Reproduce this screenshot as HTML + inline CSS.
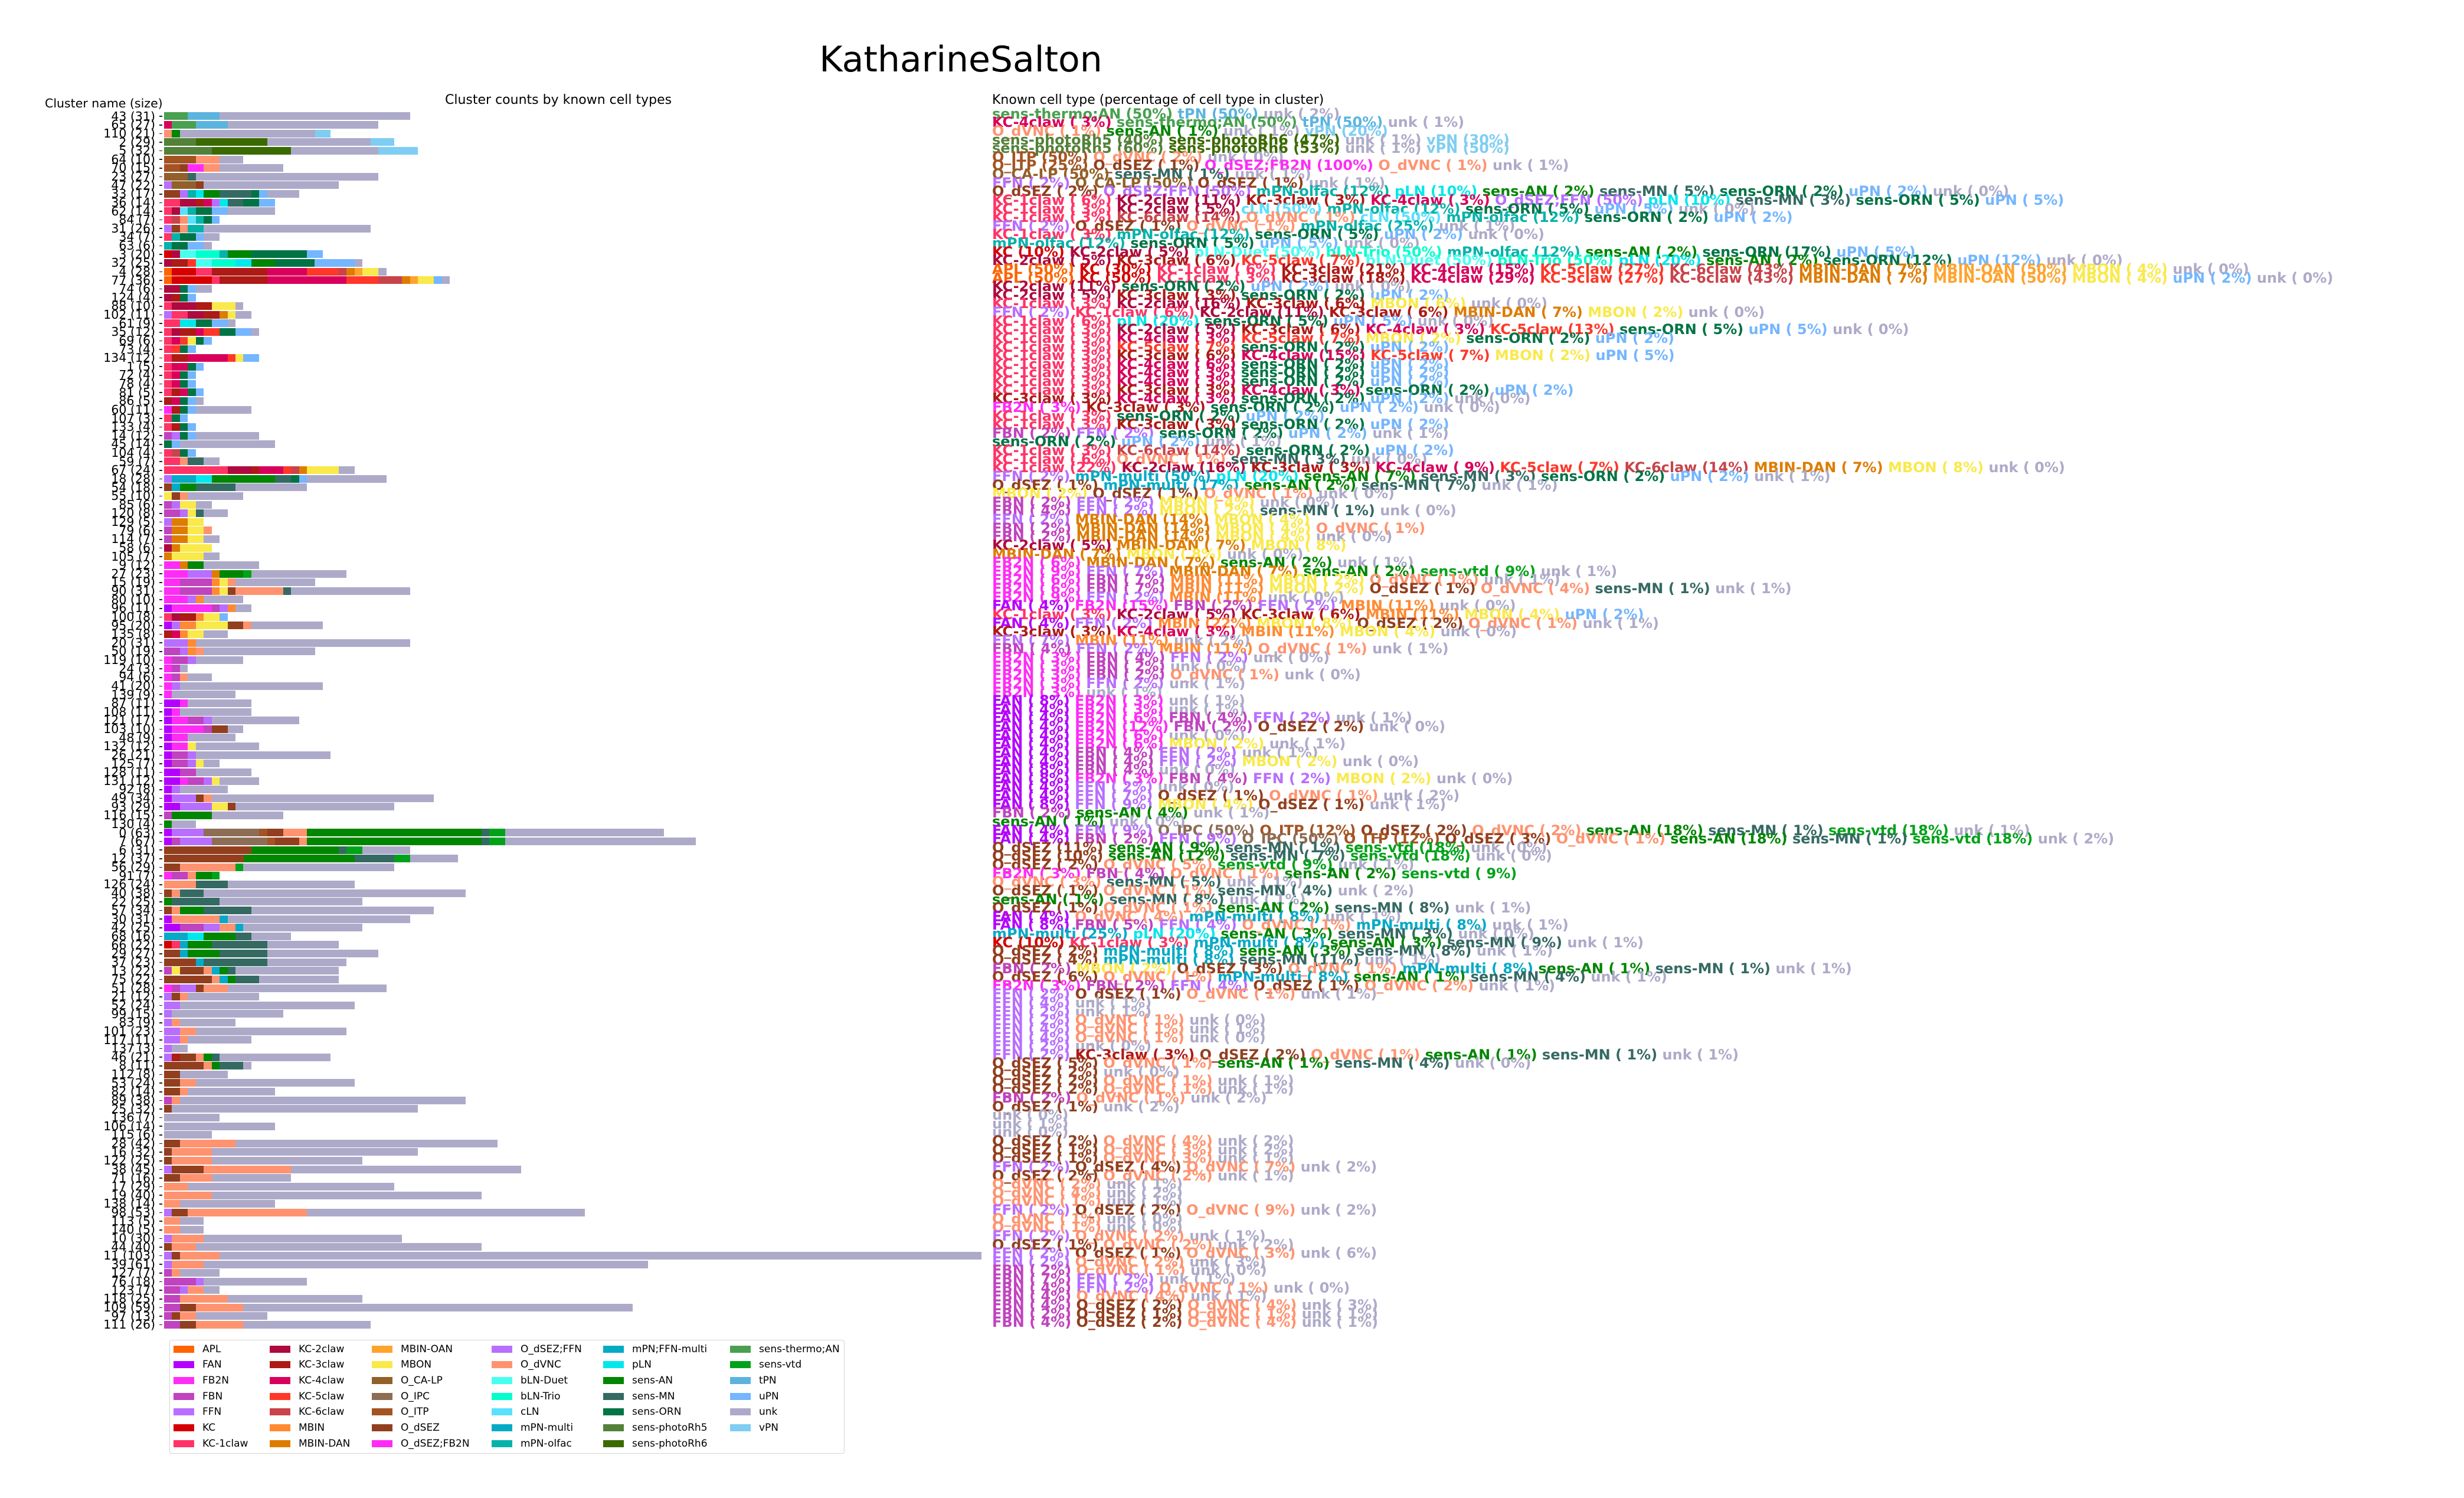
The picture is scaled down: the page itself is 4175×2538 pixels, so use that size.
<!DOCTYPE html>
<html><head><meta charset="utf-8">
<style>
*{margin:0;padding:0;box-sizing:border-box}
body{width:4175px;height:2538px;background:#fff;position:relative;overflow:hidden;font-family:"DejaVu Sans","Liberation Sans",sans-serif}
.t{position:absolute;white-space:nowrap;color:#000}
#lab{position:absolute;left:0;top:189.7px;width:263px;text-align:right;font-size:20.5px}
#lab div{height:14.64px;line-height:14.64px;white-space:nowrap}
#bars{position:absolute;left:278px;top:189.7px}
#bars div{height:14.64px;padding-top:0.8px;display:flex;position:relative}
#bars div::before{content:"";position:absolute;left:-8px;top:6.6px;width:5px;height:1.6px;background:#222}
#bars i{display:block;height:13px;width:calc(var(--n)*13.45px);background:var(--c)}
#txt{position:absolute;left:1681px;top:185.7px;font-size:24px;font-weight:bold}
#txt div{height:14.64px;line-height:14.64px;white-space:pre}
#txt b{color:var(--c)}
.ap{--c:#ff6400}.fa{--c:#b400ff}.f2,.df{--c:#ff2cf6}.fb{--c:#c043bf}.ff,.dF{--c:#b86eff}.k{--c:#d60000}.k1{--c:#ff3366}.k2{--c:#ae0a3f}.k3{--c:#ae1a16}.k4{--c:#d9005b}.k5{--c:#ff3729}.k6{--c:#c9434a}.mi{--c:#ff8a33}.md{--c:#de7c00}.mo{--c:#ffa32e}.mb{--c:#f9e94b}.ca{--c:#926029}.ip{--c:#8c6d56}.it{--c:#a45423}.ds{--c:#923f1f}.dv{--c:#ff9370}.bd{--c:#48fff0}.bt{--c:#00ffcc}.cl{--c:#5ae0ff}.mm{--c:#06aac6}.mq{--c:#05aac5}.mf{--c:#06b3aa}.pl{--c:#00e8ec}.an{--c:#008600}.mn{--c:#356a63}.or{--c:#007445}.r5{--c:#538139}.r6{--c:#3b6b00}.th{--c:#49a04f}.vt{--c:#00a21a}.tp{--c:#5bb4de}.up{--c:#74b6ff}.un{--c:#adaac9}.vp{--c:#7fcdf3}
#leg{position:absolute;left:287px;top:2270px;width:1144px;height:193px;border:1.5px solid #d4d4d4;border-radius:4px}
.li{position:absolute;font-size:17px;white-space:nowrap;height:20px;line-height:20px}
.li i{position:absolute;left:0;top:4px;width:35px;height:12px;background:var(--c)}
.li span{position:absolute;left:49px;top:0;color:#000}
</style></head><body>
<div class="t" style="left:1628px;top:101px;transform:translate(-50%,-50%);font-size:60px">KatharineSalton</div>
<div class="t" style="left:76px;top:163px;font-size:20.5px">Cluster name (size)</div>
<div class="t" style="left:754px;top:157px;font-size:22px">Cluster counts by known cell types</div>
<div class="t" style="left:1681px;top:157px;font-size:22px">Known cell type (percentage of cell type in cluster)</div>

<div id="lab">
<div>43 (31)</div><div>65 (27)</div><div>110 (21)</div><div>2 (29)</div><div>5 (32)</div><div>64 (10)</div><div>70 (15)</div><div>23 (27)</div><div>47 (22)</div><div>33 (17)</div>
<div>36 (14)</div><div>62 (14)</div><div>84 (7)</div><div>31 (26)</div><div>34 (7)</div><div>63 (6)</div><div>3 (20)</div><div>32 (25)</div><div>4 (28)</div><div>77 (36)</div>
<div>74 (6)</div><div>124 (4)</div><div>88 (10)</div><div>102 (11)</div><div>61 (9)</div><div>35 (12)</div><div>69 (6)</div><div>73 (4)</div><div>134 (12)</div><div>1 (5)</div>
<div>72 (4)</div><div>78 (4)</div><div>81 (5)</div><div>86 (5)</div><div>60 (11)</div><div>107 (3)</div><div>133 (4)</div><div>14 (12)</div><div>45 (14)</div><div>104 (4)</div>
<div>59 (7)</div><div>67 (24)</div><div>18 (28)</div><div>54 (18)</div><div>55 (10)</div><div>85 (6)</div><div>120 (8)</div><div>129 (5)</div><div>79 (6)</div><div>114 (7)</div>
<div>58 (6)</div><div>105 (7)</div><div>9 (12)</div><div>27 (23)</div><div>15 (19)</div><div>90 (31)</div><div>80 (10)</div><div>96 (11)</div><div>100 (8)</div><div>95 (20)</div>
<div>135 (8)</div><div>20 (31)</div><div>50 (19)</div><div>119 (10)</div><div>24 (3)</div><div>94 (6)</div><div>41 (20)</div><div>139 (9)</div><div>87 (11)</div><div>108 (11)</div>
<div>121 (17)</div><div>103 (10)</div><div>48 (9)</div><div>132 (12)</div><div>26 (21)</div><div>125 (7)</div><div>128 (11)</div><div>131 (12)</div><div>92 (8)</div><div>49 (34)</div>
<div>93 (29)</div><div>116 (15)</div><div>130 (4)</div><div>0 (63)</div><div>7 (67)</div><div>6 (31)</div><div>12 (37)</div><div>56 (29)</div><div>91 (7)</div><div>126 (24)</div>
<div>40 (38)</div><div>22 (25)</div><div>57 (34)</div><div>30 (31)</div><div>42 (25)</div><div>68 (16)</div><div>66 (22)</div><div>29 (27)</div><div>37 (23)</div><div>13 (22)</div>
<div>75 (22)</div><div>51 (28)</div><div>21 (12)</div><div>52 (24)</div><div>99 (15)</div><div>83 (9)</div><div>101 (23)</div><div>117 (11)</div><div>137 (3)</div><div>46 (21)</div>
<div>8 (11)</div><div>112 (8)</div><div>53 (24)</div><div>82 (14)</div><div>89 (38)</div><div>25 (32)</div><div>136 (7)</div><div>106 (14)</div><div>115 (6)</div><div>28 (42)</div>
<div>16 (32)</div><div>122 (25)</div><div>38 (45)</div><div>71 (16)</div><div>17 (29)</div><div>19 (40)</div><div>138 (14)</div><div>98 (53)</div><div>113 (5)</div><div>140 (5)</div>
<div>10 (30)</div><div>44 (40)</div><div>11 (103)</div><div>39 (61)</div><div>127 (7)</div><div>76 (18)</div><div>123 (7)</div><div>118 (25)</div><div>109 (59)</div><div>97 (13)</div>
<div>111 (26)</div>
</div>

<div id="bars">
<div><i class=th style=--n:3></i><i class=tp style=--n:4></i><i class=un style=--n:24></i></div>
<div><i class=k4 style=--n:1></i><i class=th style=--n:3></i><i class=tp style=--n:4></i><i class=un style=--n:19></i></div>
<div><i class=dv style=--n:1></i><i class=an style=--n:1></i><i class=un style=--n:17></i><i class=vp style=--n:2></i></div>
<div><i class=r5 style=--n:4></i><i class=r6 style=--n:9></i><i class=un style=--n:13></i><i class=vp style=--n:3></i></div>
<div><i class=r5 style=--n:6></i><i class=r6 style=--n:10></i><i class=un style=--n:11></i><i class=vp style=--n:5></i></div>
<div><i class=it style=--n:4></i><i class=dv style=--n:3></i><i class=un style=--n:3></i></div>
<div><i class=it style=--n:2></i><i class=ds style=--n:1></i><i class=df style=--n:2></i><i class=dv style=--n:2></i><i class=un style=--n:8></i></div>
<div><i class=ca style=--n:3></i><i class=mn style=--n:1></i><i class=un style=--n:23></i></div>
<div><i class=ff style=--n:1></i><i class=ca style=--n:3></i><i class=ds style=--n:1></i><i class=un style=--n:17></i></div>
<div><i class=ds style=--n:2></i><i class=dF style=--n:1></i><i class=mf style=--n:1></i><i class=pl style=--n:1></i><i class=an style=--n:2></i><i class=mn style=--n:4></i><i class=or style=--n:1></i><i class=up style=--n:1></i><i class=un style=--n:4></i></div>
<div><i class=k1 style=--n:2></i><i class=k2 style=--n:2></i><i class=k3 style=--n:1></i><i class=k4 style=--n:1></i><i class=dF style=--n:1></i><i class=pl style=--n:1></i><i class=mn style=--n:2></i><i class=or style=--n:2></i><i class=up style=--n:2></i></div>
<div><i class=k1 style=--n:1></i><i class=k2 style=--n:1></i><i class=cl style=--n:1></i><i class=mf style=--n:1></i><i class=or style=--n:2></i><i class=up style=--n:2></i><i class=un style=--n:6></i></div>
<div><i class=k1 style=--n:1></i><i class=k6 style=--n:1></i><i class=dv style=--n:1></i><i class=cl style=--n:1></i><i class=mf style=--n:1></i><i class=or style=--n:1></i><i class=up style=--n:1></i></div>
<div><i class=ff style=--n:1></i><i class=ds style=--n:1></i><i class=dv style=--n:1></i><i class=mf style=--n:2></i><i class=un style=--n:21></i></div>
<div><i class=k1 style=--n:1></i><i class=mf style=--n:1></i><i class=or style=--n:2></i><i class=up style=--n:1></i><i class=un style=--n:2></i></div>
<div><i class=mf style=--n:1></i><i class=or style=--n:2></i><i class=up style=--n:2></i><i class=un style=--n:1></i></div>
<div><i class=k style=--n:1></i><i class=k2 style=--n:1></i><i class=bd style=--n:2></i><i class=bt style=--n:3></i><i class=mf style=--n:1></i><i class=an style=--n:3></i><i class=or style=--n:7></i><i class=up style=--n:2></i></div>
<div><i class=k2 style=--n:1></i><i class=k3 style=--n:2></i><i class=k5 style=--n:1></i><i class=bd style=--n:2></i><i class=bt style=--n:3></i><i class=pl style=--n:2></i><i class=an style=--n:3></i><i class=or style=--n:5></i><i class=up style=--n:5></i><i class=un style=--n:1></i></div>
<div><i class=ap style=--n:1></i><i class=k style=--n:3></i><i class=k1 style=--n:2></i><i class=k3 style=--n:7></i><i class=k4 style=--n:5></i><i class=k5 style=--n:4></i><i class=k6 style=--n:1></i><i class=md style=--n:1></i><i class=mo style=--n:1></i><i class=mb style=--n:2></i><i class=un style=--n:1></i></div>
<div><i class=ap style=--n:1></i><i class=k style=--n:5></i><i class=k1 style=--n:1></i><i class=k3 style=--n:6></i><i class=k4 style=--n:10></i><i class=k5 style=--n:4></i><i class=k6 style=--n:3></i><i class=md style=--n:1></i><i class=mo style=--n:1></i><i class=mb style=--n:2></i><i class=up style=--n:1></i><i class=un style=--n:1></i></div>
<div><i class=k2 style=--n:2></i><i class=or style=--n:1></i><i class=up style=--n:1></i><i class=un style=--n:2></i></div>
<div><i class=k2 style=--n:1></i><i class=k3 style=--n:1></i><i class=or style=--n:1></i><i class=up style=--n:1></i></div>
<div><i class=k1 style=--n:1></i><i class=k2 style=--n:3></i><i class=k3 style=--n:2></i><i class=mb style=--n:3></i><i class=un style=--n:1></i></div>
<div><i class=ff style=--n:1></i><i class=k1 style=--n:2></i><i class=k2 style=--n:2></i><i class=k3 style=--n:2></i><i class=md style=--n:1></i><i class=mb style=--n:1></i><i class=un style=--n:2></i></div>
<div><i class=k1 style=--n:2></i><i class=pl style=--n:2></i><i class=or style=--n:2></i><i class=up style=--n:2></i><i class=un style=--n:1></i></div>
<div><i class=k1 style=--n:1></i><i class=k2 style=--n:1></i><i class=k3 style=--n:2></i><i class=k4 style=--n:1></i><i class=k5 style=--n:2></i><i class=or style=--n:2></i><i class=up style=--n:2></i><i class=un style=--n:1></i></div>
<div><i class=k1 style=--n:1></i><i class=k4 style=--n:1></i><i class=k5 style=--n:1></i><i class=mb style=--n:1></i><i class=or style=--n:1></i><i class=up style=--n:1></i></div>
<div><i class=k1 style=--n:1></i><i class=k5 style=--n:1></i><i class=or style=--n:1></i><i class=up style=--n:1></i></div>
<div><i class=k1 style=--n:1></i><i class=k3 style=--n:2></i><i class=k4 style=--n:5></i><i class=k5 style=--n:1></i><i class=mb style=--n:1></i><i class=up style=--n:2></i></div>
<div><i class=k1 style=--n:1></i><i class=k4 style=--n:2></i><i class=or style=--n:1></i><i class=up style=--n:1></i></div>
<div><i class=k1 style=--n:1></i><i class=k4 style=--n:1></i><i class=or style=--n:1></i><i class=up style=--n:1></i></div>
<div><i class=k1 style=--n:1></i><i class=k4 style=--n:1></i><i class=or style=--n:1></i><i class=up style=--n:1></i></div>
<div><i class=k1 style=--n:1></i><i class=k3 style=--n:1></i><i class=k4 style=--n:1></i><i class=or style=--n:1></i><i class=up style=--n:1></i></div>
<div><i class=k3 style=--n:1></i><i class=k4 style=--n:1></i><i class=or style=--n:1></i><i class=up style=--n:1></i><i class=un style=--n:1></i></div>
<div><i class=f2 style=--n:1></i><i class=k3 style=--n:1></i><i class=or style=--n:1></i><i class=up style=--n:1></i><i class=un style=--n:7></i></div>
<div><i class=k1 style=--n:1></i><i class=or style=--n:1></i><i class=up style=--n:1></i></div>
<div><i class=k1 style=--n:1></i><i class=k3 style=--n:1></i><i class=or style=--n:1></i><i class=up style=--n:1></i></div>
<div><i class=fb style=--n:1></i><i class=ff style=--n:1></i><i class=or style=--n:1></i><i class=up style=--n:1></i><i class=un style=--n:8></i></div>
<div><i class=or style=--n:1></i><i class=up style=--n:1></i><i class=un style=--n:12></i></div>
<div><i class=k1 style=--n:1></i><i class=k6 style=--n:1></i><i class=or style=--n:1></i><i class=up style=--n:1></i></div>
<div><i class=k1 style=--n:2></i><i class=dv style=--n:1></i><i class=mn style=--n:2></i><i class=un style=--n:2></i></div>
<div><i class=k1 style=--n:8></i><i class=k2 style=--n:3></i><i class=k3 style=--n:1></i><i class=k4 style=--n:3></i><i class=k5 style=--n:1></i><i class=k6 style=--n:1></i><i class=md style=--n:1></i><i class=mb style=--n:4></i><i class=un style=--n:2></i></div>
<div><i class=ff style=--n:1></i><i class=mm style=--n:3></i><i class=pl style=--n:2></i><i class=an style=--n:8></i><i class=mn style=--n:2></i><i class=or style=--n:1></i><i class=up style=--n:1></i><i class=un style=--n:10></i></div>
<div><i class=ds style=--n:1></i><i class=mm style=--n:1></i><i class=an style=--n:2></i><i class=mn style=--n:5></i><i class=un style=--n:9></i></div>
<div><i class=mb style=--n:1></i><i class=ds style=--n:1></i><i class=dv style=--n:1></i><i class=un style=--n:7></i></div>
<div><i class=fb style=--n:1></i><i class=ff style=--n:1></i><i class=mb style=--n:2></i><i class=un style=--n:2></i></div>
<div><i class=fb style=--n:2></i><i class=ff style=--n:1></i><i class=mb style=--n:1></i><i class=mn style=--n:1></i><i class=un style=--n:3></i></div>
<div><i class=ff style=--n:1></i><i class=md style=--n:2></i><i class=mb style=--n:2></i></div>
<div><i class=fb style=--n:1></i><i class=md style=--n:2></i><i class=mb style=--n:2></i><i class=dv style=--n:1></i></div>
<div><i class=fb style=--n:1></i><i class=md style=--n:2></i><i class=mb style=--n:2></i><i class=un style=--n:2></i></div>
<div><i class=k2 style=--n:1></i><i class=md style=--n:1></i><i class=mb style=--n:4></i></div>
<div><i class=md style=--n:1></i><i class=mb style=--n:4></i><i class=un style=--n:2></i></div>
<div><i class=f2 style=--n:2></i><i class=md style=--n:1></i><i class=an style=--n:2></i><i class=un style=--n:7></i></div>
<div><i class=f2 style=--n:3></i><i class=ff style=--n:3></i><i class=md style=--n:1></i><i class=an style=--n:3></i><i class=vt style=--n:1></i><i class=un style=--n:12></i></div>
<div><i class=f2 style=--n:2></i><i class=fb style=--n:4></i><i class=mi style=--n:1></i><i class=mb style=--n:1></i><i class=dv style=--n:1></i><i class=un style=--n:10></i></div>
<div><i class=f2 style=--n:2></i><i class=fb style=--n:4></i><i class=mi style=--n:1></i><i class=mb style=--n:1></i><i class=ds style=--n:1></i><i class=dv style=--n:6></i><i class=mn style=--n:1></i><i class=un style=--n:15></i></div>
<div><i class=f2 style=--n:3></i><i class=ff style=--n:1></i><i class=mi style=--n:1></i><i class=un style=--n:5></i></div>
<div><i class=fa style=--n:1></i><i class=f2 style=--n:5></i><i class=fb style=--n:1></i><i class=ff style=--n:1></i><i class=mi style=--n:1></i><i class=un style=--n:2></i></div>
<div><i class=k1 style=--n:1></i><i class=k2 style=--n:1></i><i class=k3 style=--n:2></i><i class=mi style=--n:1></i><i class=mb style=--n:2></i><i class=up style=--n:1></i></div>
<div><i class=fa style=--n:1></i><i class=ff style=--n:1></i><i class=mi style=--n:2></i><i class=mb style=--n:4></i><i class=ds style=--n:2></i><i class=dv style=--n:1></i><i class=un style=--n:9></i></div>
<div><i class=k3 style=--n:1></i><i class=k4 style=--n:1></i><i class=mi style=--n:1></i><i class=mb style=--n:2></i><i class=un style=--n:3></i></div>
<div><i class=ff style=--n:3></i><i class=mi style=--n:1></i><i class=un style=--n:27></i></div>
<div><i class=fb style=--n:2></i><i class=ff style=--n:1></i><i class=mi style=--n:1></i><i class=dv style=--n:1></i><i class=un style=--n:14></i></div>
<div><i class=f2 style=--n:1></i><i class=fb style=--n:2></i><i class=ff style=--n:1></i><i class=un style=--n:6></i></div>
<div><i class=f2 style=--n:1></i><i class=fb style=--n:1></i><i class=un style=--n:1></i></div>
<div><i class=f2 style=--n:1></i><i class=fb style=--n:1></i><i class=dv style=--n:1></i><i class=un style=--n:3></i></div>
<div><i class=f2 style=--n:1></i><i class=ff style=--n:1></i><i class=un style=--n:18></i></div>
<div><i class=f2 style=--n:1></i><i class=un style=--n:8></i></div>
<div><i class=fa style=--n:2></i><i class=f2 style=--n:1></i><i class=un style=--n:8></i></div>
<div><i class=fa style=--n:1></i><i class=f2 style=--n:1></i><i class=un style=--n:9></i></div>
<div><i class=fa style=--n:1></i><i class=f2 style=--n:2></i><i class=fb style=--n:2></i><i class=ff style=--n:1></i><i class=un style=--n:11></i></div>
<div><i class=fa style=--n:1></i><i class=f2 style=--n:4></i><i class=fb style=--n:1></i><i class=ds style=--n:2></i><i class=un style=--n:2></i></div>
<div><i class=fa style=--n:1></i><i class=f2 style=--n:2></i><i class=un style=--n:6></i></div>
<div><i class=fa style=--n:1></i><i class=f2 style=--n:2></i><i class=mb style=--n:1></i><i class=un style=--n:8></i></div>
<div><i class=fa style=--n:1></i><i class=fb style=--n:2></i><i class=ff style=--n:1></i><i class=un style=--n:17></i></div>
<div><i class=fa style=--n:1></i><i class=fb style=--n:2></i><i class=ff style=--n:1></i><i class=mb style=--n:1></i><i class=un style=--n:2></i></div>
<div><i class=fa style=--n:2></i><i class=fb style=--n:2></i><i class=un style=--n:7></i></div>
<div><i class=fa style=--n:2></i><i class=f2 style=--n:1></i><i class=fb style=--n:2></i><i class=ff style=--n:1></i><i class=mb style=--n:1></i><i class=un style=--n:5></i></div>
<div><i class=fa style=--n:1></i><i class=ff style=--n:1></i><i class=un style=--n:6></i></div>
<div><i class=fa style=--n:1></i><i class=ff style=--n:3></i><i class=ds style=--n:1></i><i class=dv style=--n:1></i><i class=un style=--n:28></i></div>
<div><i class=fa style=--n:2></i><i class=ff style=--n:4></i><i class=mb style=--n:2></i><i class=ds style=--n:1></i><i class=un style=--n:20></i></div>
<div><i class=fb style=--n:1></i><i class=an style=--n:5></i><i class=un style=--n:9></i></div>
<div><i class=an style=--n:1></i><i class=un style=--n:3></i></div>
<div><i class=fa style=--n:1></i><i class=ff style=--n:4></i><i class=ip style=--n:7></i><i class=it style=--n:1></i><i class=ds style=--n:2></i><i class=dv style=--n:3></i><i class=an style=--n:22></i><i class=mn style=--n:1></i><i class=vt style=--n:2></i><i class=un style=--n:20></i></div>
<div><i class=fa style=--n:1></i><i class=fb style=--n:1></i><i class=ff style=--n:4></i><i class=ip style=--n:7></i><i class=it style=--n:1></i><i class=ds style=--n:3></i><i class=dv style=--n:1></i><i class=an style=--n:22></i><i class=mn style=--n:1></i><i class=vt style=--n:2></i><i class=un style=--n:24></i></div>
<div><i class=ds style=--n:11></i><i class=an style=--n:11></i><i class=mn style=--n:1></i><i class=vt style=--n:2></i><i class=un style=--n:6></i></div>
<div><i class=ds style=--n:10></i><i class=an style=--n:14></i><i class=mn style=--n:5></i><i class=vt style=--n:2></i><i class=un style=--n:6></i></div>
<div><i class=ds style=--n:2></i><i class=dv style=--n:7></i><i class=vt style=--n:1></i><i class=un style=--n:19></i></div>
<div><i class=f2 style=--n:1></i><i class=fb style=--n:2></i><i class=dv style=--n:1></i><i class=an style=--n:2></i><i class=vt style=--n:1></i></div>
<div><i class=dv style=--n:4></i><i class=mn style=--n:4></i><i class=un style=--n:16></i></div>
<div><i class=ds style=--n:1></i><i class=dv style=--n:1></i><i class=mn style=--n:3></i><i class=un style=--n:33></i></div>
<div><i class=an style=--n:1></i><i class=mn style=--n:6></i><i class=un style=--n:18></i></div>
<div><i class=ds style=--n:1></i><i class=dv style=--n:1></i><i class=an style=--n:3></i><i class=mn style=--n:6></i><i class=un style=--n:23></i></div>
<div><i class=fa style=--n:1></i><i class=dv style=--n:6></i><i class=mm style=--n:1></i><i class=un style=--n:23></i></div>
<div><i class=fa style=--n:2></i><i class=fb style=--n:3></i><i class=ff style=--n:2></i><i class=dv style=--n:2></i><i class=mm style=--n:1></i><i class=un style=--n:15></i></div>
<div><i class=mm style=--n:3></i><i class=pl style=--n:2></i><i class=an style=--n:4></i><i class=mn style=--n:2></i><i class=un style=--n:5></i></div>
<div><i class=k style=--n:1></i><i class=k1 style=--n:1></i><i class=mm style=--n:1></i><i class=an style=--n:3></i><i class=mn style=--n:7></i><i class=un style=--n:9></i></div>
<div><i class=ds style=--n:2></i><i class=mm style=--n:1></i><i class=an style=--n:4></i><i class=mn style=--n:6></i><i class=un style=--n:14></i></div>
<div><i class=ds style=--n:4></i><i class=mm style=--n:1></i><i class=mn style=--n:8></i><i class=un style=--n:10></i></div>
<div><i class=fb style=--n:1></i><i class=mb style=--n:1></i><i class=ds style=--n:3></i><i class=dv style=--n:1></i><i class=mm style=--n:1></i><i class=an style=--n:1></i><i class=mn style=--n:1></i><i class=un style=--n:13></i></div>
<div><i class=ds style=--n:6></i><i class=dv style=--n:1></i><i class=mm style=--n:1></i><i class=an style=--n:1></i><i class=mn style=--n:3></i><i class=un style=--n:10></i></div>
<div><i class=f2 style=--n:1></i><i class=fb style=--n:1></i><i class=ff style=--n:2></i><i class=ds style=--n:1></i><i class=dv style=--n:3></i><i class=un style=--n:20></i></div>
<div><i class=ff style=--n:1></i><i class=ds style=--n:1></i><i class=dv style=--n:1></i><i class=un style=--n:9></i></div>
<div><i class=ff style=--n:2></i><i class=un style=--n:22></i></div>
<div><i class=ff style=--n:1></i><i class=un style=--n:14></i></div>
<div><i class=ff style=--n:1></i><i class=dv style=--n:1></i><i class=un style=--n:7></i></div>
<div><i class=ff style=--n:2></i><i class=dv style=--n:2></i><i class=un style=--n:19></i></div>
<div><i class=ff style=--n:2></i><i class=dv style=--n:1></i><i class=un style=--n:8></i></div>
<div><i class=ff style=--n:1></i><i class=un style=--n:2></i></div>
<div><i class=ff style=--n:1></i><i class=k3 style=--n:1></i><i class=ds style=--n:2></i><i class=dv style=--n:1></i><i class=an style=--n:1></i><i class=mn style=--n:1></i><i class=un style=--n:14></i></div>
<div><i class=ds style=--n:5></i><i class=dv style=--n:1></i><i class=an style=--n:1></i><i class=mn style=--n:3></i><i class=un style=--n:1></i></div>
<div><i class=ds style=--n:2></i><i class=un style=--n:6></i></div>
<div><i class=ds style=--n:2></i><i class=dv style=--n:2></i><i class=un style=--n:20></i></div>
<div><i class=ds style=--n:2></i><i class=dv style=--n:1></i><i class=un style=--n:11></i></div>
<div><i class=fb style=--n:1></i><i class=dv style=--n:1></i><i class=un style=--n:36></i></div>
<div><i class=ds style=--n:1></i><i class=un style=--n:31></i></div>
<div><i class=un style=--n:7></i></div>
<div><i class=un style=--n:14></i></div>
<div><i class=un style=--n:6></i></div>
<div><i class=ds style=--n:2></i><i class=dv style=--n:7></i><i class=un style=--n:33></i></div>
<div><i class=ds style=--n:1></i><i class=dv style=--n:5></i><i class=un style=--n:26></i></div>
<div><i class=ds style=--n:1></i><i class=dv style=--n:5></i><i class=un style=--n:19></i></div>
<div><i class=ff style=--n:1></i><i class=ds style=--n:4></i><i class=dv style=--n:11></i><i class=un style=--n:29></i></div>
<div><i class=ds style=--n:2></i><i class=dv style=--n:4></i><i class=un style=--n:10></i></div>
<div><i class=dv style=--n:3></i><i class=un style=--n:26></i></div>
<div><i class=dv style=--n:6></i><i class=un style=--n:34></i></div>
<div><i class=dv style=--n:2></i><i class=un style=--n:12></i></div>
<div><i class=ff style=--n:1></i><i class=ds style=--n:2></i><i class=dv style=--n:15></i><i class=un style=--n:35></i></div>
<div><i class=dv style=--n:2></i><i class=un style=--n:3></i></div>
<div><i class=dv style=--n:2></i><i class=un style=--n:3></i></div>
<div><i class=ff style=--n:1></i><i class=dv style=--n:4></i><i class=un style=--n:25></i></div>
<div><i class=ds style=--n:1></i><i class=dv style=--n:3></i><i class=un style=--n:36></i></div>
<div><i class=ff style=--n:1></i><i class=ds style=--n:1></i><i class=dv style=--n:5></i><i class=un style=--n:96></i></div>
<div><i class=ff style=--n:1></i><i class=dv style=--n:4></i><i class=un style=--n:56></i></div>
<div><i class=fb style=--n:1></i><i class=dv style=--n:1></i><i class=un style=--n:5></i></div>
<div><i class=fb style=--n:4></i><i class=ff style=--n:1></i><i class=un style=--n:13></i></div>
<div><i class=fb style=--n:2></i><i class=ff style=--n:1></i><i class=dv style=--n:2></i><i class=un style=--n:2></i></div>
<div><i class=fb style=--n:2></i><i class=dv style=--n:6></i><i class=un style=--n:17></i></div>
<div><i class=fb style=--n:2></i><i class=ds style=--n:2></i><i class=dv style=--n:6></i><i class=un style=--n:49></i></div>
<div><i class=fb style=--n:1></i><i class=ds style=--n:1></i><i class=dv style=--n:2></i><i class=un style=--n:9></i></div>
<div><i class=fb style=--n:2></i><i class=ds style=--n:2></i><i class=dv style=--n:6></i><i class=un style=--n:16></i></div>
</div>

<div id="txt">
<div><b class=th>sens-thermo;AN (50%)</b> <b class=tp>tPN (50%)</b> <b class=un>unk ( 2%)</b></div>
<div><b class=k4>KC-4claw ( 3%)</b> <b class=th>sens-thermo;AN (50%)</b> <b class=tp>tPN (50%)</b> <b class=un>unk ( 1%)</b></div>
<div><b class=dv>O_dVNC ( 1%)</b> <b class=an>sens-AN ( 1%)</b> <b class=un>unk ( 1%)</b> <b class=vp>vPN (20%)</b></div>
<div><b class=r5>sens-photoRh5 (40%)</b> <b class=r6>sens-photoRh6 (47%)</b> <b class=un>unk ( 1%)</b> <b class=vp>vPN (30%)</b></div>
<div><b class=r5>sens-photoRh5 (60%)</b> <b class=r6>sens-photoRh6 (53%)</b> <b class=un>unk ( 1%)</b> <b class=vp>vPN (50%)</b></div>
<div><b class=it>O_ITP (50%)</b> <b class=dv>O_dVNC ( 2%)</b> <b class=un>unk ( 0%)</b></div>
<div><b class=it>O_ITP (25%)</b> <b class=ds>O_dSEZ ( 1%)</b> <b class=df>O_dSEZ;FB2N (100%)</b> <b class=dv>O_dVNC ( 1%)</b> <b class=un>unk ( 1%)</b></div>
<div><b class=ca>O_CA-LP (50%)</b> <b class=mn>sens-MN ( 1%)</b> <b class=un>unk ( 1%)</b></div>
<div><b class=ff>FFN ( 2%)</b> <b class=ca>O_CA-LP (50%)</b> <b class=ds>O_dSEZ ( 1%)</b> <b class=un>unk ( 1%)</b></div>
<div><b class=ds>O_dSEZ ( 2%)</b> <b class=dF>O_dSEZ;FFN (50%)</b> <b class=mf>mPN-olfac (12%)</b> <b class=pl>pLN (10%)</b> <b class=an>sens-AN ( 2%)</b> <b class=mn>sens-MN ( 5%)</b> <b class=or>sens-ORN ( 2%)</b> <b class=up>uPN ( 2%)</b> <b class=un>unk ( 0%)</b></div>
<div><b class=k1>KC-1claw ( 6%)</b> <b class=k2>KC-2claw (11%)</b> <b class=k3>KC-3claw ( 3%)</b> <b class=k4>KC-4claw ( 3%)</b> <b class=dF>O_dSEZ;FFN (50%)</b> <b class=pl>pLN (10%)</b> <b class=mn>sens-MN ( 3%)</b> <b class=or>sens-ORN ( 5%)</b> <b class=up>uPN ( 5%)</b></div>
<div><b class=k1>KC-1claw ( 3%)</b> <b class=k2>KC-2claw ( 5%)</b> <b class=cl>cLN (50%)</b> <b class=mf>mPN-olfac (12%)</b> <b class=or>sens-ORN ( 5%)</b> <b class=up>uPN ( 5%)</b> <b class=un>unk ( 0%)</b></div>
<div><b class=k1>KC-1claw ( 3%)</b> <b class=k6>KC-6claw (14%)</b> <b class=dv>O_dVNC ( 1%)</b> <b class=cl>cLN (50%)</b> <b class=mf>mPN-olfac (12%)</b> <b class=or>sens-ORN ( 2%)</b> <b class=up>uPN ( 2%)</b></div>
<div><b class=ff>FFN ( 2%)</b> <b class=ds>O_dSEZ ( 1%)</b> <b class=dv>O_dVNC ( 1%)</b> <b class=mf>mPN-olfac (25%)</b> <b class=un>unk ( 1%)</b></div>
<div><b class=k1>KC-1claw ( 3%)</b> <b class=mf>mPN-olfac (12%)</b> <b class=or>sens-ORN ( 5%)</b> <b class=up>uPN ( 2%)</b> <b class=un>unk ( 0%)</b></div>
<div><b class=mf>mPN-olfac (12%)</b> <b class=or>sens-ORN ( 5%)</b> <b class=up>uPN ( 5%)</b> <b class=un>unk ( 0%)</b></div>
<div><b class=k>KC (10%)</b> <b class=k2>KC-2claw ( 5%)</b> <b class=bd>bLN-Duet (50%)</b> <b class=bt>bLN-Trio (50%)</b> <b class=mf>mPN-olfac (12%)</b> <b class=an>sens-AN ( 2%)</b> <b class=or>sens-ORN (17%)</b> <b class=up>uPN ( 5%)</b></div>
<div><b class=k2>KC-2claw ( 5%)</b> <b class=k3>KC-3claw ( 6%)</b> <b class=k5>KC-5claw ( 7%)</b> <b class=bd>bLN-Duet (50%)</b> <b class=bt>bLN-Trio (50%)</b> <b class=pl>pLN (20%)</b> <b class=an>sens-AN ( 2%)</b> <b class=or>sens-ORN (12%)</b> <b class=up>uPN (12%)</b> <b class=un>unk ( 0%)</b></div>
<div><b class=ap>APL (50%)</b> <b class=k>KC (30%)</b> <b class=k1>KC-1claw ( 6%)</b> <b class=k3>KC-3claw (21%)</b> <b class=k4>KC-4claw (15%)</b> <b class=k5>KC-5claw (27%)</b> <b class=k6>KC-6claw (43%)</b> <b class=md>MBIN-DAN ( 7%)</b> <b class=mo>MBIN-OAN (50%)</b> <b class=mb>MBON ( 4%)</b> <b class=un>unk ( 0%)</b></div>
<div><b class=ap>APL (50%)</b> <b class=k>KC (50%)</b> <b class=k1>KC-1claw ( 3%)</b> <b class=k3>KC-3claw (18%)</b> <b class=k4>KC-4claw (29%)</b> <b class=k5>KC-5claw (27%)</b> <b class=k6>KC-6claw (43%)</b> <b class=md>MBIN-DAN ( 7%)</b> <b class=mo>MBIN-OAN (50%)</b> <b class=mb>MBON ( 4%)</b> <b class=up>uPN ( 2%)</b> <b class=un>unk ( 0%)</b></div>
<div><b class=k2>KC-2claw (11%)</b> <b class=or>sens-ORN ( 2%)</b> <b class=up>uPN ( 2%)</b> <b class=un>unk ( 0%)</b></div>
<div><b class=k2>KC-2claw ( 5%)</b> <b class=k3>KC-3claw ( 3%)</b> <b class=or>sens-ORN ( 2%)</b> <b class=up>uPN ( 2%)</b></div>
<div><b class=k1>KC-1claw ( 3%)</b> <b class=k2>KC-2claw (16%)</b> <b class=k3>KC-3claw ( 6%)</b> <b class=mb>MBON ( 6%)</b> <b class=un>unk ( 0%)</b></div>
<div><b class=ff>FFN ( 2%)</b> <b class=k1>KC-1claw ( 6%)</b> <b class=k2>KC-2claw (11%)</b> <b class=k3>KC-3claw ( 6%)</b> <b class=md>MBIN-DAN ( 7%)</b> <b class=mb>MBON ( 2%)</b> <b class=un>unk ( 0%)</b></div>
<div><b class=k1>KC-1claw ( 6%)</b> <b class=pl>pLN (20%)</b> <b class=or>sens-ORN ( 5%)</b> <b class=up>uPN ( 5%)</b> <b class=un>unk ( 0%)</b></div>
<div><b class=k1>KC-1claw ( 3%)</b> <b class=k2>KC-2claw ( 5%)</b> <b class=k3>KC-3claw ( 6%)</b> <b class=k4>KC-4claw ( 3%)</b> <b class=k5>KC-5claw (13%)</b> <b class=or>sens-ORN ( 5%)</b> <b class=up>uPN ( 5%)</b> <b class=un>unk ( 0%)</b></div>
<div><b class=k1>KC-1claw ( 3%)</b> <b class=k4>KC-4claw ( 3%)</b> <b class=k5>KC-5claw ( 7%)</b> <b class=mb>MBON ( 2%)</b> <b class=or>sens-ORN ( 2%)</b> <b class=up>uPN ( 2%)</b></div>
<div><b class=k1>KC-1claw ( 3%)</b> <b class=k5>KC-5claw ( 7%)</b> <b class=or>sens-ORN ( 2%)</b> <b class=up>uPN ( 2%)</b></div>
<div><b class=k1>KC-1claw ( 3%)</b> <b class=k3>KC-3claw ( 6%)</b> <b class=k4>KC-4claw (15%)</b> <b class=k5>KC-5claw ( 7%)</b> <b class=mb>MBON ( 2%)</b> <b class=up>uPN ( 5%)</b></div>
<div><b class=k1>KC-1claw ( 3%)</b> <b class=k4>KC-4claw ( 6%)</b> <b class=or>sens-ORN ( 2%)</b> <b class=up>uPN ( 2%)</b></div>
<div><b class=k1>KC-1claw ( 3%)</b> <b class=k4>KC-4claw ( 3%)</b> <b class=or>sens-ORN ( 2%)</b> <b class=up>uPN ( 2%)</b></div>
<div><b class=k1>KC-1claw ( 3%)</b> <b class=k4>KC-4claw ( 3%)</b> <b class=or>sens-ORN ( 2%)</b> <b class=up>uPN ( 2%)</b></div>
<div><b class=k1>KC-1claw ( 3%)</b> <b class=k3>KC-3claw ( 3%)</b> <b class=k4>KC-4claw ( 3%)</b> <b class=or>sens-ORN ( 2%)</b> <b class=up>uPN ( 2%)</b></div>
<div><b class=k3>KC-3claw ( 3%)</b> <b class=k4>KC-4claw ( 3%)</b> <b class=or>sens-ORN ( 2%)</b> <b class=up>uPN ( 2%)</b> <b class=un>unk ( 0%)</b></div>
<div><b class=f2>FB2N ( 3%)</b> <b class=k3>KC-3claw ( 3%)</b> <b class=or>sens-ORN ( 2%)</b> <b class=up>uPN ( 2%)</b> <b class=un>unk ( 0%)</b></div>
<div><b class=k1>KC-1claw ( 3%)</b> <b class=or>sens-ORN ( 2%)</b> <b class=up>uPN ( 2%)</b></div>
<div><b class=k1>KC-1claw ( 3%)</b> <b class=k3>KC-3claw ( 3%)</b> <b class=or>sens-ORN ( 2%)</b> <b class=up>uPN ( 2%)</b></div>
<div><b class=fb>FBN ( 2%)</b> <b class=ff>FFN ( 2%)</b> <b class=or>sens-ORN ( 2%)</b> <b class=up>uPN ( 2%)</b> <b class=un>unk ( 1%)</b></div>
<div><b class=or>sens-ORN ( 2%)</b> <b class=up>uPN ( 2%)</b> <b class=un>unk ( 1%)</b></div>
<div><b class=k1>KC-1claw ( 3%)</b> <b class=k6>KC-6claw (14%)</b> <b class=or>sens-ORN ( 2%)</b> <b class=up>uPN ( 2%)</b></div>
<div><b class=k1>KC-1claw ( 6%)</b> <b class=dv>O_dVNC ( 1%)</b> <b class=mn>sens-MN ( 3%)</b> <b class=un>unk ( 0%)</b></div>
<div><b class=k1>KC-1claw (22%)</b> <b class=k2>KC-2claw (16%)</b> <b class=k3>KC-3claw ( 3%)</b> <b class=k4>KC-4claw ( 9%)</b> <b class=k5>KC-5claw ( 7%)</b> <b class=k6>KC-6claw (14%)</b> <b class=md>MBIN-DAN ( 7%)</b> <b class=mb>MBON ( 8%)</b> <b class=un>unk ( 0%)</b></div>
<div><b class=ff>FFN ( 2%)</b> <b class=mm>mPN-multi (50%)</b> <b class=pl>pLN (20%)</b> <b class=an>sens-AN ( 7%)</b> <b class=mn>sens-MN ( 3%)</b> <b class=or>sens-ORN ( 2%)</b> <b class=up>uPN ( 2%)</b> <b class=un>unk ( 1%)</b></div>
<div><b class=ds>O_dSEZ ( 1%)</b> <b class=mm>mPN-multi (17%)</b> <b class=an>sens-AN ( 2%)</b> <b class=mn>sens-MN ( 7%)</b> <b class=un>unk ( 1%)</b></div>
<div><b class=mb>MBON ( 2%)</b> <b class=ds>O_dSEZ ( 1%)</b> <b class=dv>O_dVNC ( 1%)</b> <b class=un>unk ( 0%)</b></div>
<div><b class=fb>FBN ( 2%)</b> <b class=ff>FFN ( 2%)</b> <b class=mb>MBON ( 4%)</b> <b class=un>unk ( 0%)</b></div>
<div><b class=fb>FBN ( 4%)</b> <b class=ff>FFN ( 2%)</b> <b class=mb>MBON ( 2%)</b> <b class=mn>sens-MN ( 1%)</b> <b class=un>unk ( 0%)</b></div>
<div><b class=ff>FFN ( 2%)</b> <b class=md>MBIN-DAN (14%)</b> <b class=mb>MBON ( 4%)</b></div>
<div><b class=fb>FBN ( 2%)</b> <b class=md>MBIN-DAN (14%)</b> <b class=mb>MBON ( 4%)</b> <b class=dv>O_dVNC ( 1%)</b></div>
<div><b class=fb>FBN ( 2%)</b> <b class=md>MBIN-DAN (14%)</b> <b class=mb>MBON ( 4%)</b> <b class=un>unk ( 0%)</b></div>
<div><b class=k2>KC-2claw ( 5%)</b> <b class=md>MBIN-DAN ( 7%)</b> <b class=mb>MBON ( 8%)</b></div>
<div><b class=md>MBIN-DAN ( 7%)</b> <b class=mb>MBON ( 8%)</b> <b class=un>unk ( 0%)</b></div>
<div><b class=f2>FB2N ( 6%)</b> <b class=md>MBIN-DAN ( 7%)</b> <b class=an>sens-AN ( 2%)</b> <b class=un>unk ( 1%)</b></div>
<div><b class=f2>FB2N ( 9%)</b> <b class=ff>FFN ( 7%)</b> <b class=md>MBIN-DAN ( 7%)</b> <b class=an>sens-AN ( 2%)</b> <b class=vt>sens-vtd ( 9%)</b> <b class=un>unk ( 1%)</b></div>
<div><b class=f2>FB2N ( 6%)</b> <b class=fb>FBN ( 7%)</b> <b class=mi>MBIN (11%)</b> <b class=mb>MBON ( 2%)</b> <b class=dv>O_dVNC ( 1%)</b> <b class=un>unk ( 1%)</b></div>
<div><b class=f2>FB2N ( 6%)</b> <b class=fb>FBN ( 7%)</b> <b class=mi>MBIN (11%)</b> <b class=mb>MBON ( 2%)</b> <b class=ds>O_dSEZ ( 1%)</b> <b class=dv>O_dVNC ( 4%)</b> <b class=mn>sens-MN ( 1%)</b> <b class=un>unk ( 1%)</b></div>
<div><b class=f2>FB2N ( 9%)</b> <b class=ff>FFN ( 2%)</b> <b class=mi>MBIN (11%)</b> <b class=un>unk ( 0%)</b></div>
<div><b class=fa>FAN ( 4%)</b> <b class=f2>FB2N (15%)</b> <b class=fb>FBN ( 2%)</b> <b class=ff>FFN ( 2%)</b> <b class=mi>MBIN (11%)</b> <b class=un>unk ( 0%)</b></div>
<div><b class=k1>KC-1claw ( 3%)</b> <b class=k2>KC-2claw ( 5%)</b> <b class=k3>KC-3claw ( 6%)</b> <b class=mi>MBIN (11%)</b> <b class=mb>MBON ( 4%)</b> <b class=up>uPN ( 2%)</b></div>
<div><b class=fa>FAN ( 4%)</b> <b class=ff>FFN ( 2%)</b> <b class=mi>MBIN (22%)</b> <b class=mb>MBON ( 8%)</b> <b class=ds>O_dSEZ ( 2%)</b> <b class=dv>O_dVNC ( 1%)</b> <b class=un>unk ( 1%)</b></div>
<div><b class=k3>KC-3claw ( 3%)</b> <b class=k4>KC-4claw ( 3%)</b> <b class=mi>MBIN (11%)</b> <b class=mb>MBON ( 4%)</b> <b class=un>unk ( 0%)</b></div>
<div><b class=ff>FFN ( 7%)</b> <b class=mi>MBIN (11%)</b> <b class=un>unk ( 2%)</b></div>
<div><b class=fb>FBN ( 4%)</b> <b class=ff>FFN ( 2%)</b> <b class=mi>MBIN (11%)</b> <b class=dv>O_dVNC ( 1%)</b> <b class=un>unk ( 1%)</b></div>
<div><b class=f2>FB2N ( 3%)</b> <b class=fb>FBN ( 4%)</b> <b class=ff>FFN ( 2%)</b> <b class=un>unk ( 0%)</b></div>
<div><b class=f2>FB2N ( 3%)</b> <b class=fb>FBN ( 2%)</b> <b class=un>unk ( 0%)</b></div>
<div><b class=f2>FB2N ( 3%)</b> <b class=fb>FBN ( 2%)</b> <b class=dv>O_dVNC ( 1%)</b> <b class=un>unk ( 0%)</b></div>
<div><b class=f2>FB2N ( 3%)</b> <b class=ff>FFN ( 2%)</b> <b class=un>unk ( 1%)</b></div>
<div><b class=f2>FB2N ( 3%)</b> <b class=un>unk ( 1%)</b></div>
<div><b class=fa>FAN ( 8%)</b> <b class=f2>FB2N ( 3%)</b> <b class=un>unk ( 1%)</b></div>
<div><b class=fa>FAN ( 4%)</b> <b class=f2>FB2N ( 3%)</b> <b class=un>unk ( 1%)</b></div>
<div><b class=fa>FAN ( 4%)</b> <b class=f2>FB2N ( 6%)</b> <b class=fb>FBN ( 4%)</b> <b class=ff>FFN ( 2%)</b> <b class=un>unk ( 1%)</b></div>
<div><b class=fa>FAN ( 4%)</b> <b class=f2>FB2N (12%)</b> <b class=fb>FBN ( 2%)</b> <b class=ds>O_dSEZ ( 2%)</b> <b class=un>unk ( 0%)</b></div>
<div><b class=fa>FAN ( 4%)</b> <b class=f2>FB2N ( 6%)</b> <b class=un>unk ( 0%)</b></div>
<div><b class=fa>FAN ( 4%)</b> <b class=f2>FB2N ( 6%)</b> <b class=mb>MBON ( 2%)</b> <b class=un>unk ( 1%)</b></div>
<div><b class=fa>FAN ( 4%)</b> <b class=fb>FBN ( 4%)</b> <b class=ff>FFN ( 2%)</b> <b class=un>unk ( 1%)</b></div>
<div><b class=fa>FAN ( 4%)</b> <b class=fb>FBN ( 4%)</b> <b class=ff>FFN ( 2%)</b> <b class=mb>MBON ( 2%)</b> <b class=un>unk ( 0%)</b></div>
<div><b class=fa>FAN ( 8%)</b> <b class=fb>FBN ( 4%)</b> <b class=un>unk ( 0%)</b></div>
<div><b class=fa>FAN ( 8%)</b> <b class=f2>FB2N ( 3%)</b> <b class=fb>FBN ( 4%)</b> <b class=ff>FFN ( 2%)</b> <b class=mb>MBON ( 2%)</b> <b class=un>unk ( 0%)</b></div>
<div><b class=fa>FAN ( 4%)</b> <b class=ff>FFN ( 2%)</b> <b class=un>unk ( 0%)</b></div>
<div><b class=fa>FAN ( 4%)</b> <b class=ff>FFN ( 7%)</b> <b class=ds>O_dSEZ ( 1%)</b> <b class=dv>O_dVNC ( 1%)</b> <b class=un>unk ( 2%)</b></div>
<div><b class=fa>FAN ( 8%)</b> <b class=ff>FFN ( 9%)</b> <b class=mb>MBON ( 4%)</b> <b class=ds>O_dSEZ ( 1%)</b> <b class=un>unk ( 1%)</b></div>
<div><b class=fb>FBN ( 2%)</b> <b class=an>sens-AN ( 4%)</b> <b class=un>unk ( 1%)</b></div>
<div><b class=an>sens-AN ( 1%)</b> <b class=un>unk ( 0%)</b></div>
<div><b class=fa>FAN ( 4%)</b> <b class=ff>FFN ( 9%)</b> <b class=ip>O_IPC (50%)</b> <b class=it>O_ITP (12%)</b> <b class=ds>O_dSEZ ( 2%)</b> <b class=dv>O_dVNC ( 2%)</b> <b class=an>sens-AN (18%)</b> <b class=mn>sens-MN ( 1%)</b> <b class=vt>sens-vtd (18%)</b> <b class=un>unk ( 1%)</b></div>
<div><b class=fa>FAN ( 4%)</b> <b class=fb>FBN ( 2%)</b> <b class=ff>FFN ( 9%)</b> <b class=ip>O_IPC (50%)</b> <b class=it>O_ITP (12%)</b> <b class=ds>O_dSEZ ( 3%)</b> <b class=dv>O_dVNC ( 1%)</b> <b class=an>sens-AN (18%)</b> <b class=mn>sens-MN ( 1%)</b> <b class=vt>sens-vtd (18%)</b> <b class=un>unk ( 2%)</b></div>
<div><b class=ds>O_dSEZ (11%)</b> <b class=an>sens-AN ( 9%)</b> <b class=mn>sens-MN ( 1%)</b> <b class=vt>sens-vtd (18%)</b> <b class=un>unk ( 0%)</b></div>
<div><b class=ds>O_dSEZ (10%)</b> <b class=an>sens-AN (12%)</b> <b class=mn>sens-MN ( 7%)</b> <b class=vt>sens-vtd (18%)</b> <b class=un>unk ( 0%)</b></div>
<div><b class=ds>O_dSEZ ( 2%)</b> <b class=dv>O_dVNC ( 5%)</b> <b class=vt>sens-vtd ( 9%)</b> <b class=un>unk ( 1%)</b></div>
<div><b class=f2>FB2N ( 3%)</b> <b class=fb>FBN ( 4%)</b> <b class=dv>O_dVNC ( 1%)</b> <b class=an>sens-AN ( 2%)</b> <b class=vt>sens-vtd ( 9%)</b></div>
<div><b class=dv>O_dVNC ( 3%)</b> <b class=mn>sens-MN ( 5%)</b> <b class=un>unk ( 1%)</b></div>
<div><b class=ds>O_dSEZ ( 1%)</b> <b class=dv>O_dVNC ( 1%)</b> <b class=mn>sens-MN ( 4%)</b> <b class=un>unk ( 2%)</b></div>
<div><b class=an>sens-AN ( 1%)</b> <b class=mn>sens-MN ( 8%)</b> <b class=un>unk ( 1%)</b></div>
<div><b class=ds>O_dSEZ ( 1%)</b> <b class=dv>O_dVNC ( 1%)</b> <b class=an>sens-AN ( 2%)</b> <b class=mn>sens-MN ( 8%)</b> <b class=un>unk ( 1%)</b></div>
<div><b class=fa>FAN ( 4%)</b> <b class=dv>O_dVNC ( 4%)</b> <b class=mm>mPN-multi ( 8%)</b> <b class=un>unk ( 1%)</b></div>
<div><b class=fa>FAN ( 8%)</b> <b class=fb>FBN ( 5%)</b> <b class=ff>FFN ( 4%)</b> <b class=dv>O_dVNC ( 1%)</b> <b class=mm>mPN-multi ( 8%)</b> <b class=un>unk ( 1%)</b></div>
<div><b class=mm>mPN-multi (25%)</b> <b class=pl>pLN (20%)</b> <b class=an>sens-AN ( 3%)</b> <b class=mn>sens-MN ( 3%)</b> <b class=un>unk ( 0%)</b></div>
<div><b class=k>KC (10%)</b> <b class=k1>KC-1claw ( 3%)</b> <b class=mm>mPN-multi ( 8%)</b> <b class=an>sens-AN ( 3%)</b> <b class=mn>sens-MN ( 9%)</b> <b class=un>unk ( 1%)</b></div>
<div><b class=ds>O_dSEZ ( 2%)</b> <b class=mm>mPN-multi ( 8%)</b> <b class=an>sens-AN ( 3%)</b> <b class=mn>sens-MN ( 8%)</b> <b class=un>unk ( 1%)</b></div>
<div><b class=ds>O_dSEZ ( 4%)</b> <b class=mm>mPN-multi ( 8%)</b> <b class=mn>sens-MN (11%)</b> <b class=un>unk ( 1%)</b></div>
<div><b class=fb>FBN ( 2%)</b> <b class=mb>MBON ( 2%)</b> <b class=ds>O_dSEZ ( 3%)</b> <b class=dv>O_dVNC ( 1%)</b> <b class=mm>mPN-multi ( 8%)</b> <b class=an>sens-AN ( 1%)</b> <b class=mn>sens-MN ( 1%)</b> <b class=un>unk ( 1%)</b></div>
<div><b class=ds>O_dSEZ ( 6%)</b> <b class=dv>O_dVNC ( 1%)</b> <b class=mm>mPN-multi ( 8%)</b> <b class=an>sens-AN ( 1%)</b> <b class=mn>sens-MN ( 4%)</b> <b class=un>unk ( 1%)</b></div>
<div><b class=f2>FB2N ( 3%)</b> <b class=fb>FBN ( 2%)</b> <b class=ff>FFN ( 4%)</b> <b class=ds>O_dSEZ ( 1%)</b> <b class=dv>O_dVNC ( 2%)</b> <b class=un>unk ( 1%)</b></div>
<div><b class=ff>FFN ( 2%)</b> <b class=ds>O_dSEZ ( 1%)</b> <b class=dv>O_dVNC ( 1%)</b> <b class=un>unk ( 1%)</b></div>
<div><b class=ff>FFN ( 4%)</b> <b class=un>unk ( 1%)</b></div>
<div><b class=ff>FFN ( 2%)</b> <b class=un>unk ( 1%)</b></div>
<div><b class=ff>FFN ( 2%)</b> <b class=dv>O_dVNC ( 1%)</b> <b class=un>unk ( 0%)</b></div>
<div><b class=ff>FFN ( 4%)</b> <b class=dv>O_dVNC ( 1%)</b> <b class=un>unk ( 1%)</b></div>
<div><b class=ff>FFN ( 4%)</b> <b class=dv>O_dVNC ( 1%)</b> <b class=un>unk ( 0%)</b></div>
<div><b class=ff>FFN ( 2%)</b> <b class=un>unk ( 0%)</b></div>
<div><b class=ff>FFN ( 2%)</b> <b class=k3>KC-3claw ( 3%)</b> <b class=ds>O_dSEZ ( 2%)</b> <b class=dv>O_dVNC ( 1%)</b> <b class=an>sens-AN ( 1%)</b> <b class=mn>sens-MN ( 1%)</b> <b class=un>unk ( 1%)</b></div>
<div><b class=ds>O_dSEZ ( 5%)</b> <b class=dv>O_dVNC ( 1%)</b> <b class=an>sens-AN ( 1%)</b> <b class=mn>sens-MN ( 4%)</b> <b class=un>unk ( 0%)</b></div>
<div><b class=ds>O_dSEZ ( 2%)</b> <b class=un>unk ( 0%)</b></div>
<div><b class=ds>O_dSEZ ( 2%)</b> <b class=dv>O_dVNC ( 1%)</b> <b class=un>unk ( 1%)</b></div>
<div><b class=ds>O_dSEZ ( 2%)</b> <b class=dv>O_dVNC ( 1%)</b> <b class=un>unk ( 1%)</b></div>
<div><b class=fb>FBN ( 2%)</b> <b class=dv>O_dVNC ( 1%)</b> <b class=un>unk ( 2%)</b></div>
<div><b class=ds>O_dSEZ ( 1%)</b> <b class=un>unk ( 2%)</b></div>
<div><b class=un>unk ( 0%)</b></div>
<div><b class=un>unk ( 1%)</b></div>
<div><b class=un>unk ( 0%)</b></div>
<div><b class=ds>O_dSEZ ( 2%)</b> <b class=dv>O_dVNC ( 4%)</b> <b class=un>unk ( 2%)</b></div>
<div><b class=ds>O_dSEZ ( 1%)</b> <b class=dv>O_dVNC ( 3%)</b> <b class=un>unk ( 2%)</b></div>
<div><b class=ds>O_dSEZ ( 1%)</b> <b class=dv>O_dVNC ( 3%)</b> <b class=un>unk ( 1%)</b></div>
<div><b class=ff>FFN ( 2%)</b> <b class=ds>O_dSEZ ( 4%)</b> <b class=dv>O_dVNC ( 7%)</b> <b class=un>unk ( 2%)</b></div>
<div><b class=ds>O_dSEZ ( 2%)</b> <b class=dv>O_dVNC ( 2%)</b> <b class=un>unk ( 1%)</b></div>
<div><b class=dv>O_dVNC ( 2%)</b> <b class=un>unk ( 1%)</b></div>
<div><b class=dv>O_dVNC ( 4%)</b> <b class=un>unk ( 2%)</b></div>
<div><b class=dv>O_dVNC ( 1%)</b> <b class=un>unk ( 1%)</b></div>
<div><b class=ff>FFN ( 2%)</b> <b class=ds>O_dSEZ ( 2%)</b> <b class=dv>O_dVNC ( 9%)</b> <b class=un>unk ( 2%)</b></div>
<div><b class=dv>O_dVNC ( 1%)</b> <b class=un>unk ( 0%)</b></div>
<div><b class=dv>O_dVNC ( 1%)</b> <b class=un>unk ( 0%)</b></div>
<div><b class=ff>FFN ( 2%)</b> <b class=dv>O_dVNC ( 2%)</b> <b class=un>unk ( 1%)</b></div>
<div><b class=ds>O_dSEZ ( 1%)</b> <b class=dv>O_dVNC ( 2%)</b> <b class=un>unk ( 2%)</b></div>
<div><b class=ff>FFN ( 2%)</b> <b class=ds>O_dSEZ ( 1%)</b> <b class=dv>O_dVNC ( 3%)</b> <b class=un>unk ( 6%)</b></div>
<div><b class=ff>FFN ( 2%)</b> <b class=dv>O_dVNC ( 2%)</b> <b class=un>unk ( 3%)</b></div>
<div><b class=fb>FBN ( 2%)</b> <b class=dv>O_dVNC ( 1%)</b> <b class=un>unk ( 0%)</b></div>
<div><b class=fb>FBN ( 7%)</b> <b class=ff>FFN ( 2%)</b> <b class=un>unk ( 1%)</b></div>
<div><b class=fb>FBN ( 4%)</b> <b class=ff>FFN ( 2%)</b> <b class=dv>O_dVNC ( 1%)</b> <b class=un>unk ( 0%)</b></div>
<div><b class=fb>FBN ( 4%)</b> <b class=dv>O_dVNC ( 4%)</b> <b class=un>unk ( 1%)</b></div>
<div><b class=fb>FBN ( 4%)</b> <b class=ds>O_dSEZ ( 2%)</b> <b class=dv>O_dVNC ( 4%)</b> <b class=un>unk ( 3%)</b></div>
<div><b class=fb>FBN ( 2%)</b> <b class=ds>O_dSEZ ( 1%)</b> <b class=dv>O_dVNC ( 1%)</b> <b class=un>unk ( 1%)</b></div>
<div><b class=fb>FBN ( 4%)</b> <b class=ds>O_dSEZ ( 2%)</b> <b class=dv>O_dVNC ( 4%)</b> <b class=un>unk ( 1%)</b></div>
</div>

<div id="leg"></div>
<div class="li ap" style="left:294px;top:2276px"><i></i><span>APL</span></div>
<div class="li fa" style="left:294px;top:2302px"><i></i><span>FAN</span></div>
<div class="li f2" style="left:294px;top:2329px"><i></i><span>FB2N</span></div>
<div class="li fb" style="left:294px;top:2356px"><i></i><span>FBN</span></div>
<div class="li ff" style="left:294px;top:2382px"><i></i><span>FFN</span></div>
<div class="li k" style="left:294px;top:2409px"><i></i><span>KC</span></div>
<div class="li k1" style="left:294px;top:2436px"><i></i><span>KC-1claw</span></div>
<div class="li k2" style="left:457px;top:2276px"><i></i><span>KC-2claw</span></div>
<div class="li k3" style="left:457px;top:2302px"><i></i><span>KC-3claw</span></div>
<div class="li k4" style="left:457px;top:2329px"><i></i><span>KC-4claw</span></div>
<div class="li k5" style="left:457px;top:2356px"><i></i><span>KC-5claw</span></div>
<div class="li k6" style="left:457px;top:2382px"><i></i><span>KC-6claw</span></div>
<div class="li mi" style="left:457px;top:2409px"><i></i><span>MBIN</span></div>
<div class="li md" style="left:457px;top:2436px"><i></i><span>MBIN-DAN</span></div>
<div class="li mo" style="left:630px;top:2276px"><i></i><span>MBIN-OAN</span></div>
<div class="li mb" style="left:630px;top:2302px"><i></i><span>MBON</span></div>
<div class="li ca" style="left:630px;top:2329px"><i></i><span>O_CA-LP</span></div>
<div class="li ip" style="left:630px;top:2356px"><i></i><span>O_IPC</span></div>
<div class="li it" style="left:630px;top:2382px"><i></i><span>O_ITP</span></div>
<div class="li ds" style="left:630px;top:2409px"><i></i><span>O_dSEZ</span></div>
<div class="li df" style="left:630px;top:2436px"><i></i><span>O_dSEZ;FB2N</span></div>
<div class="li dF" style="left:833px;top:2276px"><i></i><span>O_dSEZ;FFN</span></div>
<div class="li dv" style="left:833px;top:2302px"><i></i><span>O_dVNC</span></div>
<div class="li bd" style="left:833px;top:2329px"><i></i><span>bLN-Duet</span></div>
<div class="li bt" style="left:833px;top:2356px"><i></i><span>bLN-Trio</span></div>
<div class="li cl" style="left:833px;top:2382px"><i></i><span>cLN</span></div>
<div class="li mm" style="left:833px;top:2409px"><i></i><span>mPN-multi</span></div>
<div class="li mf" style="left:833px;top:2436px"><i></i><span>mPN-olfac</span></div>
<div class="li mq" style="left:1022px;top:2276px"><i></i><span>mPN;FFN-multi</span></div>
<div class="li pl" style="left:1022px;top:2302px"><i></i><span>pLN</span></div>
<div class="li an" style="left:1022px;top:2329px"><i></i><span>sens-AN</span></div>
<div class="li mn" style="left:1022px;top:2356px"><i></i><span>sens-MN</span></div>
<div class="li or" style="left:1022px;top:2382px"><i></i><span>sens-ORN</span></div>
<div class="li r5" style="left:1022px;top:2409px"><i></i><span>sens-photoRh5</span></div>
<div class="li r6" style="left:1022px;top:2436px"><i></i><span>sens-photoRh6</span></div>
<div class="li th" style="left:1237px;top:2276px"><i></i><span>sens-thermo;AN</span></div>
<div class="li vt" style="left:1237px;top:2302px"><i></i><span>sens-vtd</span></div>
<div class="li tp" style="left:1237px;top:2329px"><i></i><span>tPN</span></div>
<div class="li up" style="left:1237px;top:2356px"><i></i><span>uPN</span></div>
<div class="li un" style="left:1237px;top:2382px"><i></i><span>unk</span></div>
<div class="li vp" style="left:1237px;top:2409px"><i></i><span>vPN</span></div>
</body></html>
